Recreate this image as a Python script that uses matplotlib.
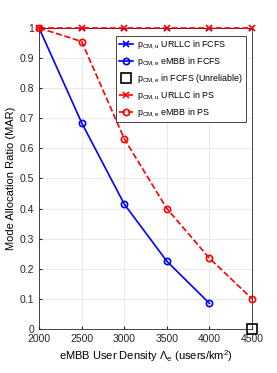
import numpy as np
import matplotlib.pyplot as plt
from matplotlib.ticker import FuncFormatter

# data
density = [2000, 2500, 3000, 3500, 4000, 4500]
fcfs_urllc = [1, 1, 1, 1, 1, 1]
fcfs_embb_x = [2000, 2500, 3000, 3500, 4000]
fcfs_embb = [1, 0.685, 0.415, 0.225, 0.085]
unrel_x = [4500]
unrel_y = [0]
ps_urllc = [1, 1, 1, 1, 1, 1]
ps_embb = [1, 0.955, 0.632, 0.40, 0.235, 0.10]

plt.rcParams['font.family'] = 'Liberation Sans'
plt.rcParams['mathtext.fontset'] = 'custom'
plt.rcParams['mathtext.rm'] = 'Liberation Sans'
plt.rcParams['mathtext.it'] = 'Liberation Sans'
plt.rcParams['font.size'] = 7

fig = plt.figure(figsize=(2.77, 3.73), dpi=100)
ax = fig.add_axes([0.141, 0.118, 0.769, 0.807])

ax.plot(density, fcfs_urllc, 'b-x', lw=1.2, ms=4.5, mew=1.2,
        label=r'p$_{\mathrm{CM,u}}$ URLLC in FCFS')
ax.plot(fcfs_embb_x, fcfs_embb, 'b-o', lw=1.2, ms=4.5, mfc='none', mew=1.2,
        label=r'p$_{\mathrm{CM,e}}$ eMBB in FCFS')
ax.plot(unrel_x, unrel_y, 'ks', ms=6.5, mfc='none', mew=1.2, ls='none',
        label=r'p$_{\mathrm{CM,e}}$ in FCFS (Unreliable)', clip_on=False, zorder=5)
ax.plot(density, ps_urllc, 'r--x', lw=1.2, ms=4.5, mew=1.2,
        label=r'p$_{\mathrm{CM,u}}$ URLLC in PS', clip_on=False, zorder=4)
ax.plot(density, ps_embb, 'r--o', lw=1.2, ms=4.5, mfc='none', mew=1.2,
        label=r'p$_{\mathrm{CM,e}}$ eMBB in PS', clip_on=False, zorder=4)

ax.set_xlim(2000, 4500)
ax.set_ylim(0, 1)
ax.set_xticks(density)
ax.set_yticks(np.arange(0, 1.01, 0.1))
ax.yaxis.set_major_formatter(FuncFormatter(lambda v, p: ('%.1f' % v).rstrip('0').rstrip('.') if v not in (0, 1) else '%d' % v))
ax.grid(True, color='#e6e6e6', lw=0.6)
ax.set_axisbelow(True)
ax.tick_params(direction='in', length=2.5, colors='#262626', labelsize=7.5)
for s in ax.spines.values():
    s.set_color('#262626')
    s.set_linewidth(0.6)

ax.set_xlabel(r'eMBB User Density $\Lambda_{\mathrm{e}}$ (users/km$^{\mathrm{2}}$)', fontsize=8, labelpad=3)
ax.set_ylabel('Mode Allocation Ratio (MAR)', fontsize=8, labelpad=3)

leg = ax.legend(loc='upper right', bbox_to_anchor=(0.972, 0.973), fontsize=6.4,
                fancybox=False, edgecolor='#262626', framealpha=1,
                handlelength=1.6, handletextpad=0.5, borderpad=0.3,
                labelspacing=0.5, borderaxespad=0)
leg.get_frame().set_linewidth(0.6)

fig.savefig('out.png', dpi=100)
